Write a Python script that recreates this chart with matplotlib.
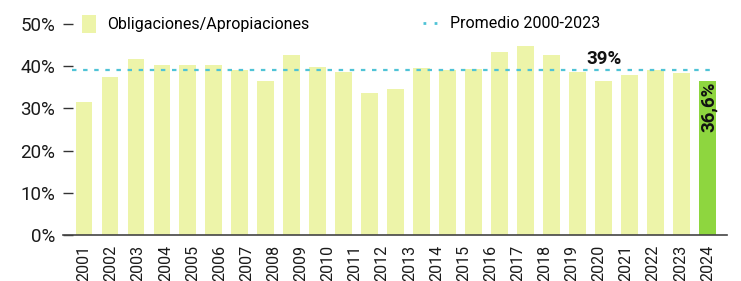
import matplotlib
matplotlib.use("Agg")
import matplotlib.pyplot as plt
from matplotlib.patches import Patch
from matplotlib.lines import Line2D
import numpy as np

# ---- data ----
bar_values = [31.4, 37.4, 41.6, 40.2, 40.2, 40.2, 39.2, 36.6, 42.7, 39.8, 38.6,
              33.6, 34.6, 39.5, 39.2, 39.4, 43.4, 44.8, 42.6, 38.6, 36.6, 37.9,
              39.2, 38.4, 36.6]
year_labels = ["2001", "2002", "2003", "2004", "2005", "2006", "2007", "2008",
               "2009", "2010", "2011", "2012", "2013", "2014", "2015", "2016",
               "2017", "2018", "2019", "2020", "2021", "2022", "2023", "2024"]
average = 39.0
y_ticks = [0, 10, 20, 30, 40, 50]
y_tick_labels = ["0%", "10%", "20%", "30%", "40%", "50%"]
legend_bar = "Obligaciones/Apropiaciones"
legend_avg = "Promedio 2000-2023"
avg_label = "39%"
last_label = "36,6%"

FONT = ["Roboto", "DejaVu Sans"]
plt.rcParams["font.family"] = FONT

BAR_COLOR = "#edf4a9"
LAST_COLOR = "#8ed63f"
AVG_COLOR = "#4fc3d6"

fig = plt.figure(figsize=(7.41, 2.81), dpi=100)
ax = fig.add_axes([0.085, 0.1637, 0.896, 0.7509])

x = np.arange(len(bar_values))
colors = [BAR_COLOR] * (len(bar_values) - 1) + [LAST_COLOR]
ax.bar(x, bar_values, width=0.65, color=colors, zorder=2)

ax.plot([-0.45, len(bar_values) - 0.7], [average, average], color=AVG_COLOR,
        linestyle=(0, (2, 3)), lw=1.6, zorder=3)

ax.set_xlim(-0.81, len(bar_values) - 0.25)
ax.set_ylim(0, 50)

ax.set_yticks(y_ticks)
ax.set_yticklabels(y_tick_labels, fontsize=13.5, color="#1a1a1a")
ax.tick_params(axis="y", direction="in", length=7.5, width=1.0, color="#333333", pad=5.5)

tick_pos = np.linspace(0, len(bar_values) - 1, len(year_labels))
ax.set_xticks(tick_pos)
ax.set_xticklabels(year_labels, rotation=90, fontsize=11.5, color="#1a1a1a")
ax.tick_params(axis="x", length=0, pad=7)

for s in ["top", "right", "left"]:
    ax.spines[s].set_visible(False)
ax.spines["bottom"].set_color("#444444")
ax.spines["bottom"].set_linewidth(1.2)

ax.text(20.0, average + 0.6, avg_label, ha="center", va="bottom",
        fontsize=13.5, fontweight="bold", color="#111111")
ax.text(x[-1] + 0.05, bar_values[-1] - 0.3, last_label, rotation=90, ha="center",
        va="top", fontsize=13.5, fontweight="bold", color="#111111")

h1 = Patch(facecolor=BAR_COLOR, edgecolor="none")
leg1 = ax.legend([h1], [legend_bar], loc="center left", bbox_to_anchor=(0.0286, 1.0),
                 frameon=False, fontsize=11.5, handlelength=0.9, handleheight=1.45,
                 handletextpad=0.65, borderpad=0, borderaxespad=0)
ax.add_artist(leg1)
h2 = Line2D([], [], color=AVG_COLOR, linestyle=(0, (1, 3)), lw=2)
ax.legend([h2], [legend_avg], loc="center left", bbox_to_anchor=(0.542, 1.0),
          frameon=False, fontsize=11.5, handlelength=0.9, handletextpad=0.8,
          borderpad=0, borderaxespad=0)

fig.savefig("out.png", dpi=100)
